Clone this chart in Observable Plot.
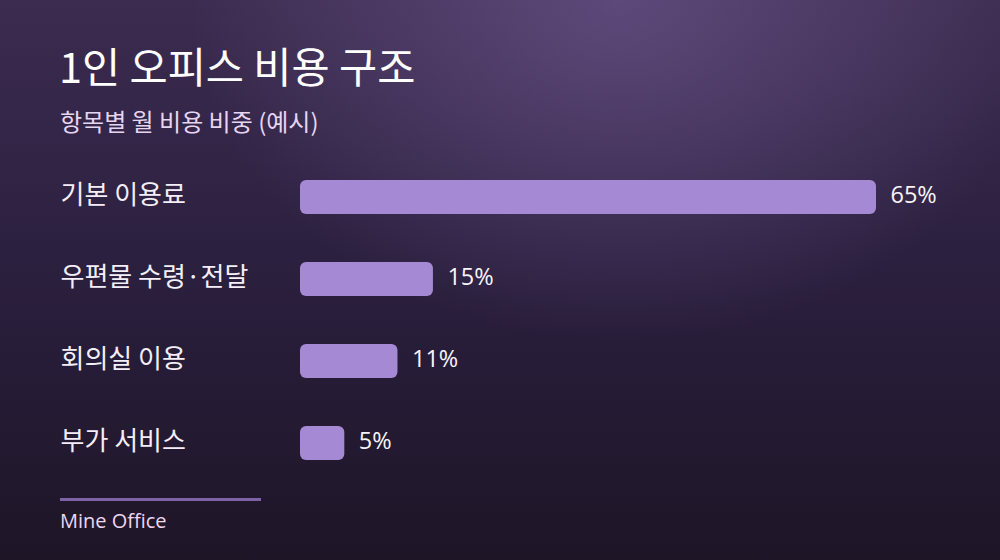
<!DOCTYPE html>
<html>
<head>
<meta charset="utf-8">
<script src="https://cdn.jsdelivr.net/npm/d3@7"></script>
<script src="https://cdn.jsdelivr.net/npm/@observablehq/plot@0.6"></script>
<style>
  html, body { margin: 0; padding: 0; }
  body { width: 1000px; height: 560px; overflow: hidden; }
  #wrap {
    position: relative; width: 1000px; height: 560px; overflow: hidden;
    font-family: "Noto Sans CJK KR", "Noto Sans", sans-serif;
    background:
      radial-gradient(ellipse 430px 340px at 620px 0px, rgba(108,86,140,0.7), rgba(108,86,140,0) 100%),
      linear-gradient(180deg, #3c2c50 0%, #2c2040 45%, #1e1527 100%);
  }
  #title { position: absolute; left: 59px; top: 41px; font-size: 41.5px; color: #ffffff; line-height: 1.2; font-weight: 400; }
  #subtitle { position: absolute; left: 60px; top: 107px; font-size: 24px; color: #e6d6f2; line-height: 1.2; }
  #chart { position: absolute; left: 0; top: 150px; }
  #rule { position: absolute; left: 60px; top: 498px; width: 201px; height: 3px; background: #7d63a6; }
  #source { position: absolute; left: 60px; top: 509px; font-size: 20px; color: #ecd6f0; line-height: 1.2; font-family: "Open Sans", "Noto Sans", sans-serif; }
</style>
</head>
<body>
<div id="wrap">
  <div id="title">1인 오피스 비용 구조</div>
  <div id="subtitle">항목별 월 비용 비중 (예시)</div>
  <div id="chart"></div>
  <div id="rule"></div>
  <div id="source">Mine Office</div>
</div>
<script>
const categories = ["기본 이용료", "우편물 수령·전달", "회의실 이용", "부가 서비스"];
const values = [65, 15, 11, 5];
const valueLabels = ["65%", "15%", "11%", "5%"];

const data = categories.map((c, i) => ({name: c, value: values[i], label: valueLabels[i]}));

const chart = Plot.plot({
  width: 1000,
  height: 340,
  marginLeft: 300,
  marginRight: 124,
  marginTop: 6,
  marginBottom: 6,
  style: {background: "transparent", fontFamily: "'Noto Sans CJK KR', 'Noto Sans', sans-serif", overflow: "visible"},
  x: {domain: [0, 65], axis: null},
  y: {domain: categories, axis: null, paddingInner: 0.585, paddingOuter: 0.2925},
  marks: [
    Plot.barX(data, {y: "name", x: "value", fill: "#a689d4", rx: 6}),
    Plot.text(data, {y: "name", text: "name", frameAnchor: "left", dx: -240, dy: -2, textAnchor: "start", fill: "#f4eef8", fontSize: 26}),
    Plot.text(data, {y: "name", x: "value", text: "label", dx: 14, dy: -2, textAnchor: "start", fill: "#f8f4fa", fontSize: 23.5, fontFamily: "'Open Sans', 'Noto Sans', sans-serif"})
  ]
});
document.getElementById("chart").appendChild(chart);
</script>
</body>
</html>
